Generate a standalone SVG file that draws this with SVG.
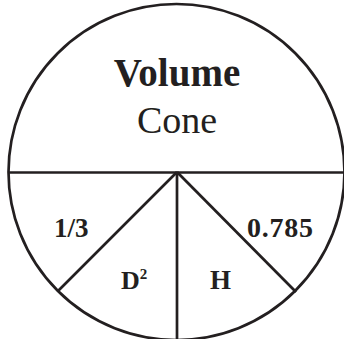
<svg xmlns="http://www.w3.org/2000/svg" width="344" height="339" viewBox="0 0 344 339">
<style>
.ln{stroke:#231f20;stroke-width:2.7;fill:none}
.t{font-family:"Liberation Serif","Times New Roman",serif;fill:#231f20}
.b{font-weight:bold}
</style>
<rect width="344" height="339" fill="#fff"/>
<g id="circle">
<circle class="ln" cx="176.5" cy="172" r="168"/>
</g>
<g id="connectors">
<line class="ln" x1="8" y1="172.5" x2="345" y2="172.5"/>
<line class="ln" x1="177" y1="172" x2="58" y2="291"/>
<line class="ln" x1="177" y1="172" x2="296" y2="292"/>
<line class="ln" x1="177" y1="172" x2="177" y2="340"/>
</g>
<g id="title">
<text class="t b" x="177" y="86" font-size="39" text-anchor="middle">Volume</text>
<text class="t" x="177" y="133" font-size="38" text-anchor="middle">Cone</text>
</g>
<g id="third"><text class="t b" x="54" y="237" font-size="27">1/3</text></g>
<g id="coef"><text class="t b" x="247" y="237" font-size="28" textLength="66" lengthAdjust="spacing">0.785</text></g>
<g id="d2"><text class="t b" x="121" y="289" font-size="26">D<tspan font-size="15" dy="-10">2</tspan></text></g>
<g id="h"><text class="t b" x="210" y="289" font-size="27">H</text></g>
</svg>
